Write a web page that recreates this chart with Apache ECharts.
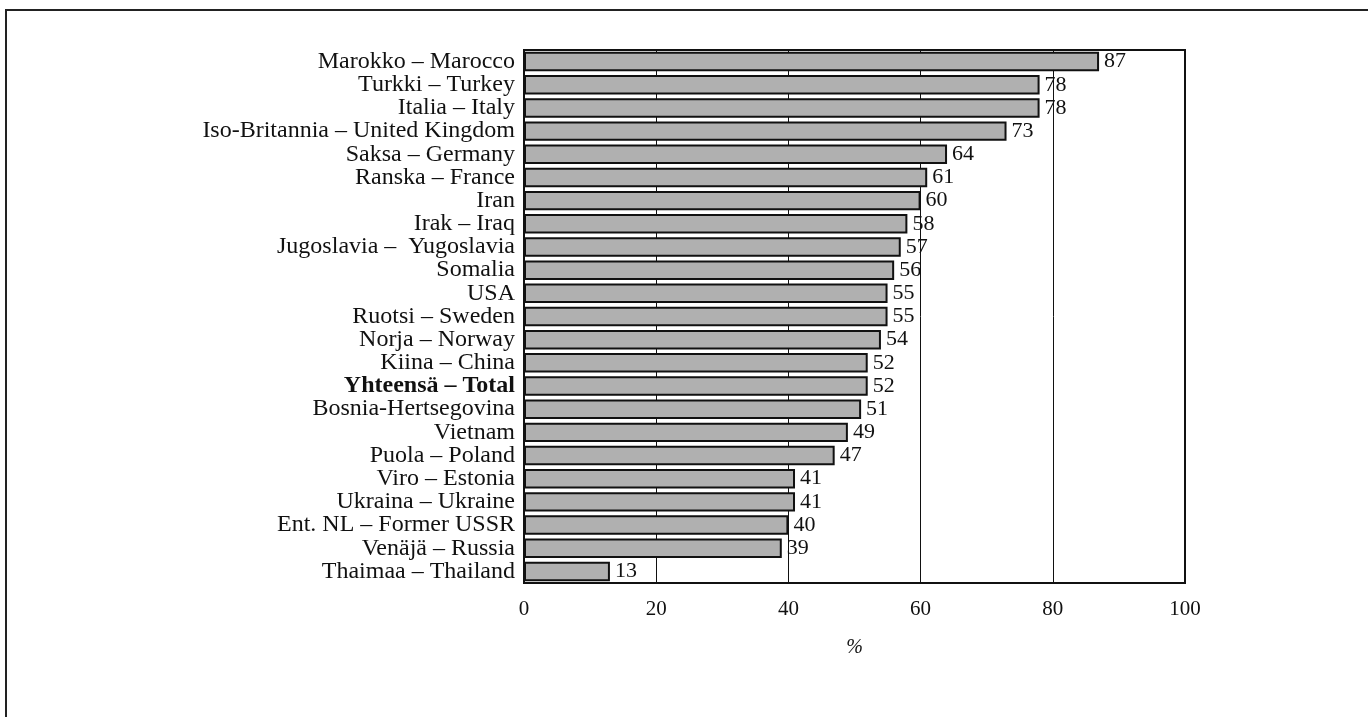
<!DOCTYPE html>
<html>
<head>
<meta charset="utf-8">
<script src="https://cdn.jsdelivr.net/npm/echarts@6/dist/echarts.min.js"></script>
<style>
  html, body { margin: 0; padding: 0; background: #fff; }
  .frame {
    position: absolute; left: 5px; top: 9px; right: 0; bottom: 0;
    border-left: 2px solid #222; border-top: 2px solid #222;
    pointer-events: none;
  }
  #chart { width: 1368px; height: 717px; }
</style>
</head>
<body>
<div id="chart"></div>
<div class="frame"></div>
<script>
// countries (top to bottom) and share in %
const countries = [
  'Marokko – Marocco', 'Turkki – Turkey', 'Italia – Italy',
  'Iso-Britannia – United Kingdom', 'Saksa – Germany', 'Ranska – France',
  'Iran', 'Irak – Iraq', 'Jugoslavia –  Yugoslavia', 'Somalia', 'USA',
  'Ruotsi – Sweden', 'Norja – Norway', 'Kiina – China', 'Yhteensä – Total',
  'Bosnia-Hertsegovina', 'Vietnam', 'Puola – Poland', 'Viro – Estonia',
  'Ukraina – Ukraine', 'Ent. NL – Former USSR', 'Venäjä – Russia',
  'Thaimaa – Thailand'
]
const values = [87, 78, 78, 73, 64, 61, 60, 58, 57, 56, 55, 55, 54, 52, 52, 51, 49, 47, 41, 41, 40, 39, 13]
const totalLabel = 'Yhteensä – Total'

const serif = '"Liberation Serif", "DejaVu Serif", serif'

const chart = echarts.init(document.getElementById('chart'))

const option = {
  backgroundColor: '#fff',
  animation: false,
  grid: {
    left: 524,
    right: 183,
    top: 50,
    bottom: 134,
    show: true,
    borderColor: '#111',
    borderWidth: 2,
    backgroundColor: 'transparent'
  },
  xAxis: {
    type: 'value',
    z: 0,
    min: 0,
    max: 100,
    interval: 20,
    name: '%',
    nameLocation: 'middle',
    nameGap: 55,
    nameTextStyle: { fontFamily: serif, fontSize: 20, fontStyle: 'italic', color: '#111' },
    axisLine: { show: true, lineStyle: { color: '#111', width: 2 } },
    axisTick: { show: false },
    axisLabel: { color: '#111', fontFamily: serif, fontSize: 21, margin: 16 },
    splitLine: { show: true, lineStyle: { color: '#111', width: 1 } }
  },
  yAxis: {
    type: 'category',
    inverse: true,
    data: countries,
    axisLine: { show: true, lineStyle: { color: '#111', width: 2 } },
    axisTick: { show: false },
    axisLabel: {
      interval: 0,
      color: '#111',
      fontFamily: serif,
      fontSize: 24,
      margin: 9,
      formatter: (v) => v === totalLabel ? '{b|' + v + '}' : v,
      rich: {
        b: { fontFamily: serif, fontSize: 24, fontWeight: 'bold', color: '#111' }
      }
    }
  },
  series: [{
    type: 'bar',
    z: 10,
    data: values,
    barCategoryGap: '16%',
    itemStyle: {
      color: '#b0b0b0',
      borderColor: '#111',
      borderWidth: 2
    },
    label: {
      show: true,
      position: 'right',
      distance: 5,
      color: '#111',
      fontFamily: serif,
      fontSize: 22
    }
  }]
}

chart.setOption(option)
window.addEventListener('resize', () => chart.resize())
</script>
</body>
</html>
